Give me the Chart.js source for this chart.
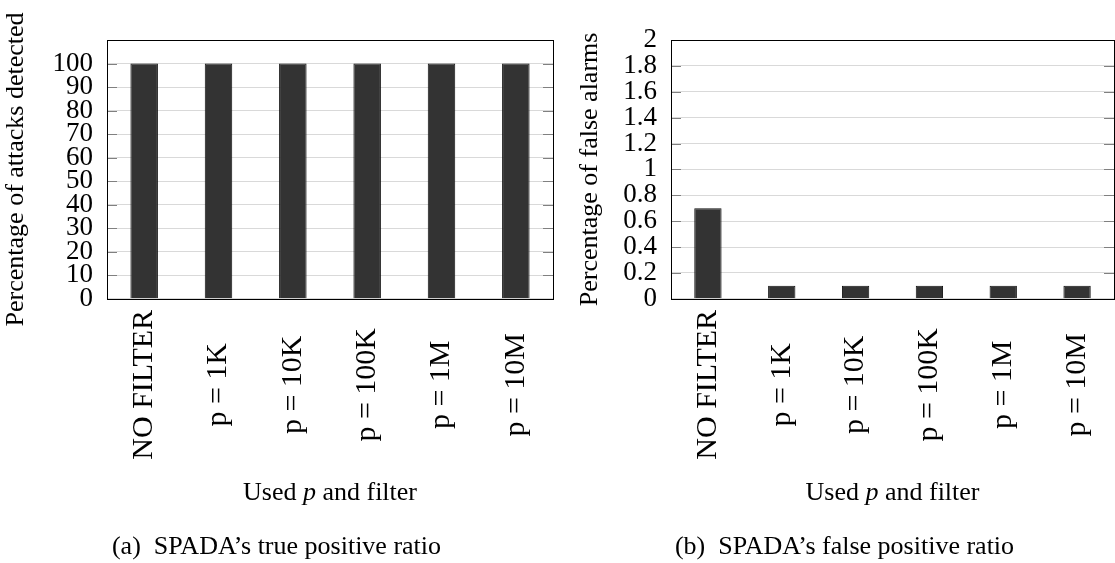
<!DOCTYPE html>
<html>
<head>
<meta charset="utf-8">
<script src="https://cdn.jsdelivr.net/npm/chart.js@4.4.0/dist/chart.umd.min.js"></script>
<style>
  html, body { margin: 0; padding: 0; background: #fff; overflow: hidden; }
  .panel { position: absolute; top: 0; height: 563px; }
  #panelA { left: 0; width: 557px; }
  #panelB { left: 575px; width: 540px; }
</style>
</head>
<body>
<div class="panel" id="panelA"><canvas id="tpChart"></canvas></div>
<div class="panel" id="panelB"><canvas id="fpChart"></canvas></div>
<script>
// SPADA detection results, one bar per filter setting
const categories = ['NO FILTER', 'p = 1K', 'p = 10K', 'p = 100K', 'p = 1M', 'p = 10M'];
const detectedPct = [100, 100, 100, 100, 100, 100];
const falseAlarmPct = [0.7, 0.1, 0.1, 0.1, 0.1, 0.1];

const detectedTickMax = 100;   // labelled ticks stop here, axis runs to 110
const falseAlarmTickMax = 2;

const serif = "'Liberation Serif', 'Times New Roman', serif";

// pgfplots-like frame, inner tick marks, rotated category labels and x title
const pgfAxes = {
  id: 'pgfAxes',
  afterDatasetsDraw(chart) {
    const { ctx, chartArea: a, scales: { y } } = chart;
    ctx.save();
    ctx.strokeStyle = '#808080';
    ctx.lineWidth = 1;
    y.ticks.forEach(t => {
      const py = Math.round(y.getPixelForValue(t.value)) + 0.5;
      ctx.beginPath();
      ctx.moveTo(a.left, py); ctx.lineTo(a.left + 10, py);
      ctx.moveTo(a.right - 10, py); ctx.lineTo(a.right, py);
      ctx.stroke();
    });
    ctx.strokeStyle = '#000';
    ctx.strokeRect(Math.round(a.left) + 0.5, Math.round(a.top) + 0.5,
      Math.round(a.right - a.left), Math.round(a.bottom - a.top));
    ctx.restore();
  },
  afterDraw(chart) {
    const { ctx, chartArea: a, scales: { x } } = chart;
    ctx.save();
    ctx.fillStyle = '#000';
    ctx.font = `30px ${serif}`;
    ctx.textAlign = 'center';
    ctx.textBaseline = 'middle';
    chart.data.labels.forEach((lbl, i) => {
      ctx.save();
      ctx.translate(x.getPixelForValue(i), a.bottom + 86);
      ctx.rotate(-Math.PI / 2);
      ctx.fillText(lbl, 0, 0);
      ctx.restore();
    });

    // "Used p and filter" with an italic p
    const parts = [['Used ', ''], ['p', 'italic '], [' and filter', '']];
    let total = 0;
    const widths = parts.map(([s, st]) => {
      ctx.font = `${st}26px ${serif}`;
      const w = ctx.measureText(s).width;
      total += w;
      return w;
    });
    let cx = (a.left + a.right) / 2 - total / 2;
    ctx.textAlign = 'left';
    parts.forEach(([s, st], i) => {
      ctx.font = `${st}26px ${serif}`;
      ctx.fillText(s, cx, a.bottom + 194);
      cx += widths[i];
    });
    ctx.restore();
  }
};

function makeChart(canvasId, values, cfg) {
  return new Chart(document.getElementById(canvasId), {
    type: 'bar',
    data: {
      labels: categories,
      datasets: [{
        data: values,
        backgroundColor: '#333333',
        borderColor: '#111111',
        borderWidth: 1,
        categoryPercentage: 1,
        barPercentage: 0.37
      }]
    },
    options: {
      responsive: true,
      maintainAspectRatio: false,
      animation: false,
      layout: { padding: { top: 40, right: cfg.padRight, left: 0, bottom: 0 } },
      plugins: {
        legend: { display: false },
        tooltip: { enabled: false },
        title: {
          display: true,
          position: 'bottom',
          text: cfg.caption,
          color: '#000',
          font: { family: serif, size: 26, weight: 'normal' },
          padding: { top: 0, bottom: 0 }
        }
      },
      scales: {
        x: {
          grid: { display: false },
          border: { display: false },
          ticks: { display: false },
          afterFit: s => { s.height = 233; }
        },
        y: {
          min: 0,
          max: cfg.max,
          ticks: {
            stepSize: cfg.step,
            autoSkip: false,
            padding: 14,
            color: '#000',
            font: { family: serif, size: 27, lineHeight: 1 },
            callback: v => String(+Number(v).toFixed(1))
          },
          afterBuildTicks: s => { s.ticks = s.ticks.filter(t => t.value <= cfg.tickMax + 1e-9); },
          grid: { color: '#d9d9d9', lineWidth: 1, drawTicks: false },
          border: { display: false },
          title: {
            display: true,
            text: cfg.yTitle,
            color: '#000',
            font: { family: serif, size: 26 },
            padding: { top: cfg.titlePad, bottom: 0 }
          },
          afterFit: s => { s.width = cfg.yWidth; }
        }
      }
    },
    plugins: [pgfAxes]
  });
}

makeChart('tpChart', detectedPct, {
  caption: '(a)  SPADA\u2019s true positive ratio',
  yTitle: 'Percentage of attacks detected',
  max: 110, step: 10, tickMax: detectedTickMax,
  yWidth: 107, padRight: 4, titlePad: 1
});

makeChart('fpChart', falseAlarmPct, {
  caption: '(b)  SPADA\u2019s false positive ratio',
  yTitle: 'Percentage of false alarms',
  max: 2, step: 0.2, tickMax: falseAlarmTickMax,
  yWidth: 96, padRight: 1, titlePad: 0
});
</script>
</body>
</html>
